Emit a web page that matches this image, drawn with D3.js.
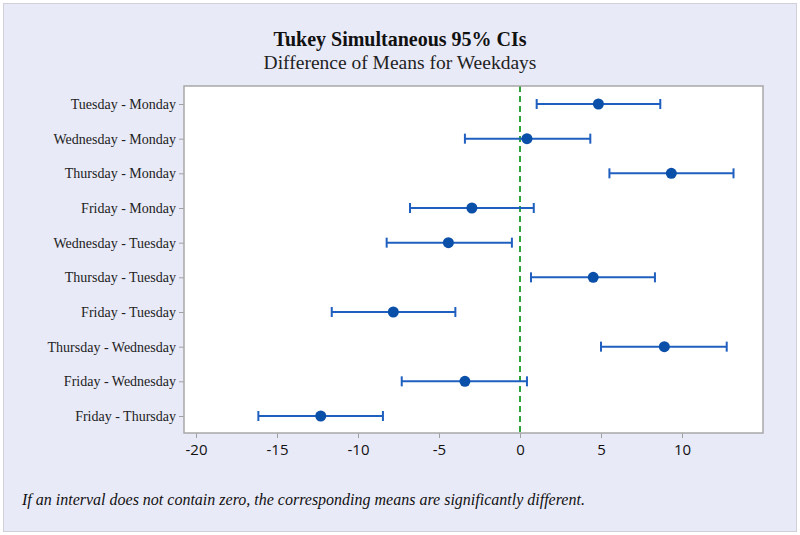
<!DOCTYPE html>
<html>
<head>
<meta charset="utf-8">
<script src="https://cdn.jsdelivr.net/npm/d3@7"></script>
<style>
  html, body { margin: 0; padding: 0; background: #fff; }
  svg { display: block; }
</style>
</head>
<body>
<svg id="chart" width="800" height="535"></svg>
<script>
const comparisons = [
  "Tuesday - Monday", "Wednesday - Monday", "Thursday - Monday", "Friday - Monday",
  "Wednesday - Tuesday", "Thursday - Tuesday", "Friday - Tuesday",
  "Thursday - Wednesday", "Friday - Wednesday", "Friday - Thursday"
];
const diffMeans = [4.84, 0.43, 9.34, -2.97, -4.42, 4.52, -7.82, 8.91, -3.40, -12.30];
const lowerCI   = [1.03, -3.40, 5.52, -6.79, -8.23, 0.68, -11.62, 5.00, -7.30, -16.15];
const upperCI   = [8.66, 4.34, 13.18, 0.85, -0.50, 8.33, -3.99, 12.76, 0.43, -8.46];
const xTicks = [-20, -15, -10, -5, 0, 5, 10];
const titleText = "Tukey Simultaneous 95% CIs";
const subtitleText = "Difference of Means for Weekdays";
const noteText = "If an interval does not contain zero, the corresponding means are significantly different.";

const svg = d3.select("#chart");
const W = 800, H = 535;
const plot = { left: 184, top: 86, right: 763, bottom: 433 };

// background
svg.append("rect").attr("x", 0).attr("y", 0).attr("width", W).attr("height", H).attr("fill", "#ffffff");
svg.append("rect").attr("x", 3.5).attr("y", 3.5).attr("width", W - 7).attr("height", H - 7)
  .attr("fill", "#e9eaf8").attr("stroke", "#cfd0d8").attr("stroke-width", 1);

const x = d3.scaleLinear().domain([-20.74, 15.0]).range([plot.left, plot.right]);
const y = d3.scalePoint().domain(comparisons).range([104, 416]);

// plot area
svg.append("rect").attr("x", plot.left).attr("y", plot.top)
  .attr("width", plot.right - plot.left).attr("height", plot.bottom - plot.top)
  .attr("fill", "#ffffff");

// titles
svg.append("text").attr("x", 400).attr("y", 46).attr("text-anchor", "middle")
  .attr("font-family", "Liberation Serif, Times New Roman, serif").attr("font-weight", "bold")
  .attr("font-size", 20).attr("fill", "#111").text(titleText);
svg.append("text").attr("x", 400).attr("y", 69).attr("text-anchor", "middle")
  .attr("font-family", "Liberation Serif, Times New Roman, serif")
  .attr("font-size", 19.5).attr("fill", "#222").text(subtitleText);

// zero reference line
svg.append("line").attr("x1", x(0)).attr("x2", x(0)).attr("y1", plot.top).attr("y2", plot.bottom)
  .attr("stroke", "#2ea43a").attr("stroke-width", 2).attr("stroke-dasharray", "6,4");

// x axis
const xAxis = d3.axisBottom(x).tickValues(xTicks).tickSize(5).tickPadding(6)
  .tickFormat(d => d3.format("d")(d).replace("−", "-"));
const gx = svg.append("g").attr("transform", `translate(0,${plot.bottom})`).call(xAxis);
gx.select(".domain").remove();
gx.selectAll(".tick line").attr("stroke", "#a0a0a0");
gx.selectAll(".tick text").attr("font-family", "Open Sans, DejaVu Sans, sans-serif")
  .attr("font-size", 15).attr("fill", "#111");

// y axis
const yAxis = d3.axisLeft(y).tickSize(5).tickPadding(3);
const gy = svg.append("g").attr("transform", `translate(${plot.left},0)`).call(yAxis);
gy.select(".domain").remove();
gy.selectAll(".tick line").attr("stroke", "#a0a0a0");
gy.selectAll(".tick text").attr("font-family", "Liberation Serif, Times New Roman, serif")
  .attr("font-size", 14).attr("fill", "#222");

// plot border
svg.append("rect").attr("x", plot.left).attr("y", plot.top)
  .attr("width", plot.right - plot.left).attr("height", plot.bottom - plot.top)
  .attr("fill", "none").attr("stroke", "#a8a8a8").attr("stroke-width", 1.5);

// intervals
const data = comparisons.map((c, i) => ({ c, m: diffMeans[i], lo: lowerCI[i], hi: upperCI[i] }));
const blue = "#1f5fbf";
const g = svg.append("g");
g.selectAll("line.ci").data(data).join("line").attr("class", "ci")
  .attr("x1", d => x(d.lo)).attr("x2", d => x(d.hi))
  .attr("y1", d => y(d.c)).attr("y2", d => y(d.c))
  .attr("stroke", blue).attr("stroke-width", 2);
g.selectAll("line.capL").data(data).join("line").attr("class", "capL")
  .attr("x1", d => x(d.lo)).attr("x2", d => x(d.lo))
  .attr("y1", d => y(d.c) - 5).attr("y2", d => y(d.c) + 5)
  .attr("stroke", blue).attr("stroke-width", 2);
g.selectAll("line.capR").data(data).join("line").attr("class", "capR")
  .attr("x1", d => x(d.hi)).attr("x2", d => x(d.hi))
  .attr("y1", d => y(d.c) - 5).attr("y2", d => y(d.c) + 5)
  .attr("stroke", blue).attr("stroke-width", 2);
g.selectAll("circle").data(data).join("circle")
  .attr("cx", d => x(d.m)).attr("cy", d => y(d.c)).attr("r", 5.5)
  .attr("fill", "#0a4fa8");

// note
svg.append("text").attr("x", 22).attr("y", 505)
  .attr("font-family", "Liberation Serif, Times New Roman, serif").attr("font-style", "italic")
  .attr("font-size", 16).attr("fill", "#111").text(noteText);
</script>
</body>
</html>
